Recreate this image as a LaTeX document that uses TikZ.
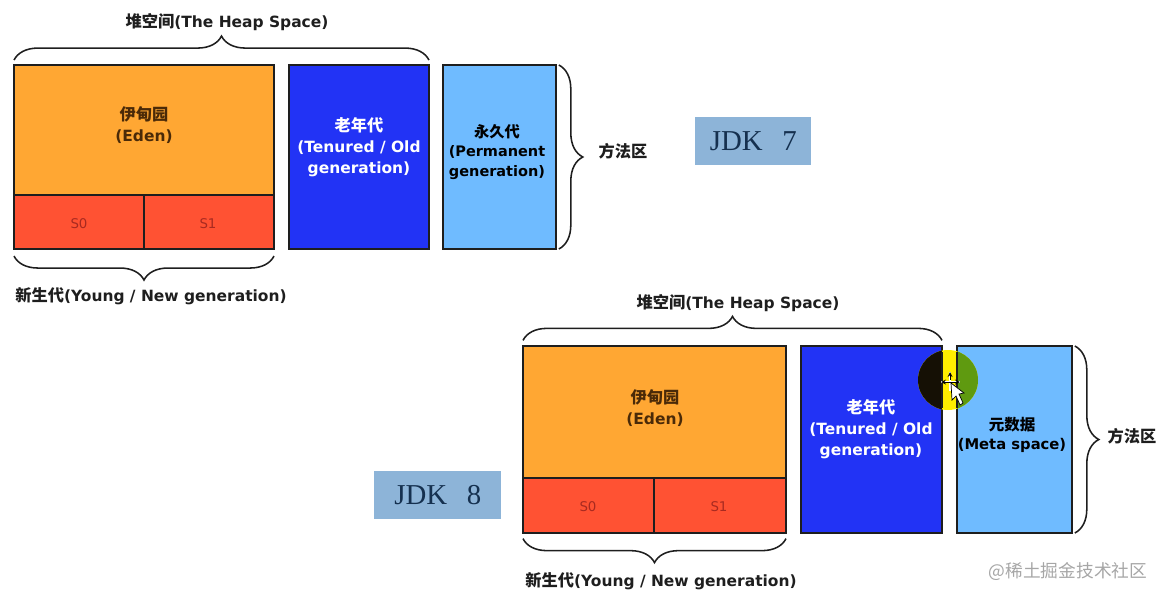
\documentclass[tikz,border=0pt]{standalone}
\usepackage{fontspec}
\setmainfont{DejaVu Sans}
\newfontfamily\cjk[Scale=1.05]{Noto Sans CJK SC}
\newfontfamily\jdkfont{Liberation Serif}
\usetikzlibrary{calc,positioning,decorations.pathreplacing}
\definecolor{edenfill}{HTML}{FFA733}
\definecolor{survfill}{HTML}{FF5233}
\definecolor{oldfill}{HTML}{2233F5}
\definecolor{permfill}{HTML}{6FBBFF}
\definecolor{jdkfill}{HTML}{8DB4D8}
\definecolor{jdktext}{HTML}{15304F}
\definecolor{edgecol}{HTML}{1E1E1E}
\definecolor{edentext}{HTML}{4A2A08}
\definecolor{survtext}{HTML}{A82A20}
\definecolor{marktext}{HTML}{A6A6A6}
\definecolor{spotyellow}{HTML}{FFEE00}
\definecolor{spotdark}{HTML}{151005}
\definecolor{spotgreen}{HTML}{5F9A10}
\newcommand{\zh}[1]{{\cjk\bfseries #1}}
\tikzset{
  area/.style n args={3}{draw=edgecol,line width=1.3pt,fill=#3,inner sep=0pt,outer sep=0pt,anchor=north west,minimum width=#1*0.025cm,minimum height=#2*0.025cm},
  brace/.style={draw=edgecol,line width=1.1pt,decorate,decoration={brace,amplitude=0.6cm}},
  title/.style={font=\bfseries\fontsize{11}{13}\selectfont,text=edgecol,inner sep=0pt},
  inlabel/.style={font=\bfseries\fontsize{11}{15}\selectfont,align=center,inner sep=0pt},
  survlabel/.style={font=\fontsize{9.5}{11}\selectfont,text=survtext,inner sep=0pt},
  jdkbox/.style={fill=jdkfill,inner sep=0pt,font=\jdkfont\fontsize{20.5}{24}\selectfont,text=jdktext,anchor=north west}
}
\begin{document}
\begin{tikzpicture}[x=0.025cm,y=-0.025cm]
\useasboundingbox (0,0) rectangle (1166,600);
% JDK 7
\node[area={260}{130}{edenfill}] (eden) at (14,65) {};
\node[area={130}{54}{survfill}] (szero) at (14,195) {};
\node[area={130}{54}{survfill}] (sone) at (144,195) {};
\node[area={140}{184}{oldfill}] (old) at (289,65) {};
\node[area={113}{184}{permfill}] (perm) at (443,65) {};
\node[inlabel,text=edentext] (edentxt) at (144,125) {\zh{伊甸园}\\(Eden)};
\node[survlabel] (szerotxt) at (79,224) {S0};
\node[survlabel] (sonetxt) at (208,224) {S1};
\node[inlabel,text=white] (oldtxt) at (359,147) {\zh{老年代}\\(Tenured / Old\\generation)};
\node[inlabel,text=black,font=\bfseries\fontsize{10.3}{14}\selectfont] (permtxt) at (497,152) {\zh{永久代}\\(Permanent\\generation)};
\node[title] (heap) at (227,22) {\zh{堆空间}(The Heap Space)};
\node[title] (young) at (151,296) {\zh{新生代}(Young / New generation)};
\node[title] (method) at (623,151) {\zh{方法区}};
\draw[brace] ([yshift=3.5pt]eden.north west) -- ([yshift=3.5pt]old.north east);
\draw[brace] ([yshift=-5pt]sone.south east) -- ([yshift=-5pt]szero.south west);
\draw[brace] ([xshift=2pt]perm.north east) -- ([xshift=2pt]perm.south east);
\node[jdkbox,minimum width=116*0.025cm,minimum height=48*0.025cm] (jdkseven) at (695,117) {JDK\hspace{14pt}7};
% JDK 8
\node[area={263}{132}{edenfill}] (edenb) at (523,346) {};
\node[area={131}{55}{survfill}] (szerob) at (523,478) {};
\node[area={132}{55}{survfill}] (soneb) at (654,478) {};
\node[area={141}{187}{oldfill}] (oldb) at (801,346) {};
\node[area={115}{187}{permfill}] (meta) at (957,346) {};
\fill[spotyellow] (948,380) circle (30*0.025cm);
\begin{scope}
\clip (948,380) circle (30*0.025cm);
\fill[spotdark] (oldb.north west) rectangle (oldb.south east);
\fill[spotgreen] (meta.north west) rectangle (meta.south east);
\end{scope}
\draw[edgecol,line width=1.3pt] (942,352) -- (942,408) (957,352) -- (957,408);
% pointer
\draw[white,line width=1.8pt] (941,382) -- (960,382) (950,372) -- (950,391);
\draw[black,line width=0.6pt,<->,>=stealth] (941,382) -- (960,382);
\draw[black,line width=0.6pt,<-,>=stealth] (950,372) -- (950,380);
\draw[black,line width=0.5pt,fill=white] (951,383) -- (952,400) -- (956,396) -- (960,405) -- (963,403) -- (959,394) -- (964,393) -- cycle;
\node[inlabel,text=edentext] (edenbtxt) at (655,408) {\zh{伊甸园}\\(Eden)};
\node[survlabel] (szerobtxt) at (588,507) {S0};
\node[survlabel] (sonebtxt) at (719,507) {S1};
\node[inlabel,text=white] (oldbtxt) at (871,429) {\zh{老年代}\\(Tenured / Old\\generation)};
\node[inlabel,text=black,font=\bfseries\fontsize{10.5}{14}\selectfont] (metatxt) at (1012,435) {\zh{元数据}\\(Meta space)};
\node[title] (heapb) at (738,303) {\zh{堆空间}(The Heap Space)};
\node[title] (youngb) at (661,581) {\zh{新生代}(Young / New generation)};
\node[title] (methodb) at (1132,436) {\zh{方法区}};
\draw[brace] ([yshift=4pt]edenb.north west) -- ([yshift=4pt]oldb.north east);
\draw[brace] ([yshift=-4pt]soneb.south east) -- ([yshift=-4pt]szerob.south west);
\draw[brace] ([xshift=2pt]meta.north east) -- ([xshift=2pt]meta.south east);
\node[jdkbox,minimum width=127*0.025cm,minimum height=48*0.025cm] (jdkeight) at (374,471) {JDK\hspace{14pt}8\hspace{10.6pt}};
% watermark
\node[text=marktext,inner sep=0pt,font=\cjk\fontsize{12}{14}\selectfont] (mark) at (1068,572) {@稀土掘金技术社区};
\end{tikzpicture}
\end{document}
